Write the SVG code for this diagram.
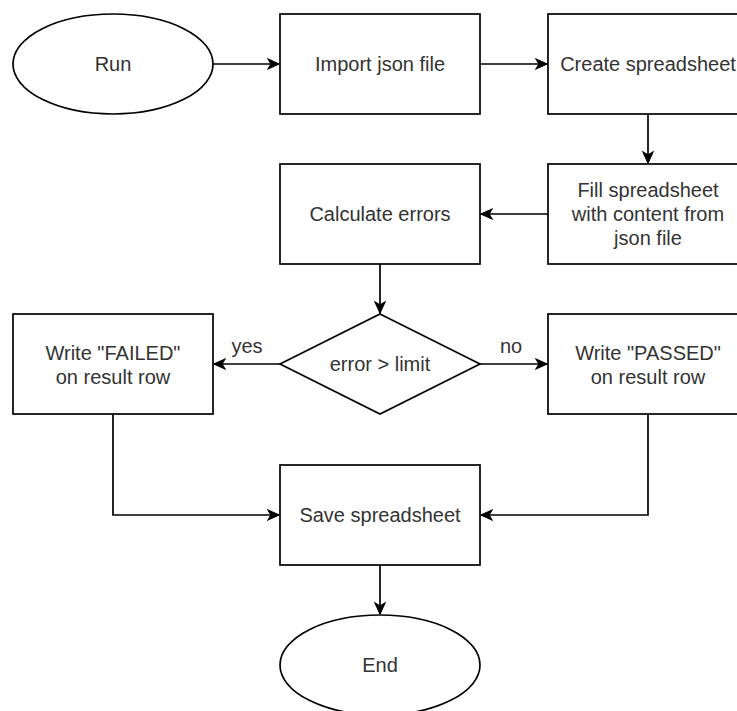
<svg xmlns="http://www.w3.org/2000/svg" width="737" height="711" viewBox="0 0 737 711">
  <style>
    .shape { fill: #ffffff; stroke: #000000; stroke-width: 1.7; }
    .edge { fill: none; stroke: #000000; stroke-width: 1.7; }
    .label { font-family: "Liberation Sans", Arial, sans-serif; font-size: 20px; fill: #333333; text-anchor: middle; }
  </style>
  <defs>
    <marker id="arrow" markerUnits="userSpaceOnUse" markerWidth="14" markerHeight="14" refX="12" refY="7" orient="auto">
      <path d="M1,2 L12,7 L1,12 L4,7 Z" fill="#000000" stroke="#000000" stroke-width="1.2" stroke-linejoin="miter"/>
    </marker>
  </defs>

  <rect width="737" height="711" fill="#ffffff"/>

  <!-- connectors -->
  <g id="connectors">
    <path class="edge" d="M213,64 H279" marker-end="url(#arrow)"/>
    <path class="edge" d="M481,64 H547" marker-end="url(#arrow)"/>
    <path class="edge" d="M648,114 V163" marker-end="url(#arrow)"/>
    <path class="edge" d="M548,214 H481" marker-end="url(#arrow)"/>
    <path class="edge" d="M380,264 V313" marker-end="url(#arrow)"/>
    <path class="edge" d="M280,364 H214" marker-end="url(#arrow)"/>
    <path class="edge" d="M480,364 H547" marker-end="url(#arrow)"/>
    <path class="edge" d="M113,414 V515 H279" marker-end="url(#arrow)"/>
    <path class="edge" d="M648,414 V515 H481" marker-end="url(#arrow)"/>
    <path class="edge" d="M380,565 V614" marker-end="url(#arrow)"/>
    <text class="label" x="247" y="353">yes</text>
    <text class="label" x="511" y="353">no</text>
  </g>

  <!-- nodes -->
  <g id="run">
    <ellipse class="shape" cx="113" cy="64" rx="100" ry="50"/>
    <text class="label" x="113" y="71">Run</text>
  </g>
  <g id="import-json">
    <rect class="shape" x="280" y="14" width="200" height="100"/>
    <text class="label" x="380" y="71">Import json file</text>
  </g>
  <g id="create-spreadsheet">
    <rect class="shape" x="548" y="14" width="200" height="100"/>
    <text class="label" x="648" y="71">Create spreadsheet</text>
  </g>
  <g id="fill-spreadsheet">
    <rect class="shape" x="548" y="164" width="200" height="100"/>
    <text class="label" x="648" y="197">Fill spreadsheet</text>
    <text class="label" x="648" y="221">with content from</text>
    <text class="label" x="648" y="245">json file</text>
  </g>
  <g id="calculate-errors">
    <rect class="shape" x="280" y="164" width="200" height="100"/>
    <text class="label" x="380" y="221">Calculate errors</text>
  </g>
  <g id="error-check">
    <polygon class="shape" points="380,314 480,364 380,414 280,364"/>
    <text class="label" x="380" y="371">error &gt; limit</text>
  </g>
  <g id="write-failed">
    <rect class="shape" x="13" y="314" width="200" height="100"/>
    <text class="label" x="113" y="360">Write "FAILED"</text>
    <text class="label" x="113" y="384">on result row</text>
  </g>
  <g id="write-passed">
    <rect class="shape" x="548" y="314" width="200" height="100"/>
    <text class="label" x="648" y="360">Write "PASSED"</text>
    <text class="label" x="648" y="384">on result row</text>
  </g>
  <g id="save-spreadsheet">
    <rect class="shape" x="280" y="465" width="200" height="100"/>
    <text class="label" x="380" y="522">Save spreadsheet</text>
  </g>
  <g id="end">
    <ellipse class="shape" cx="380" cy="665" rx="100" ry="50"/>
    <text class="label" x="380" y="672">End</text>
  </g>
</svg>
